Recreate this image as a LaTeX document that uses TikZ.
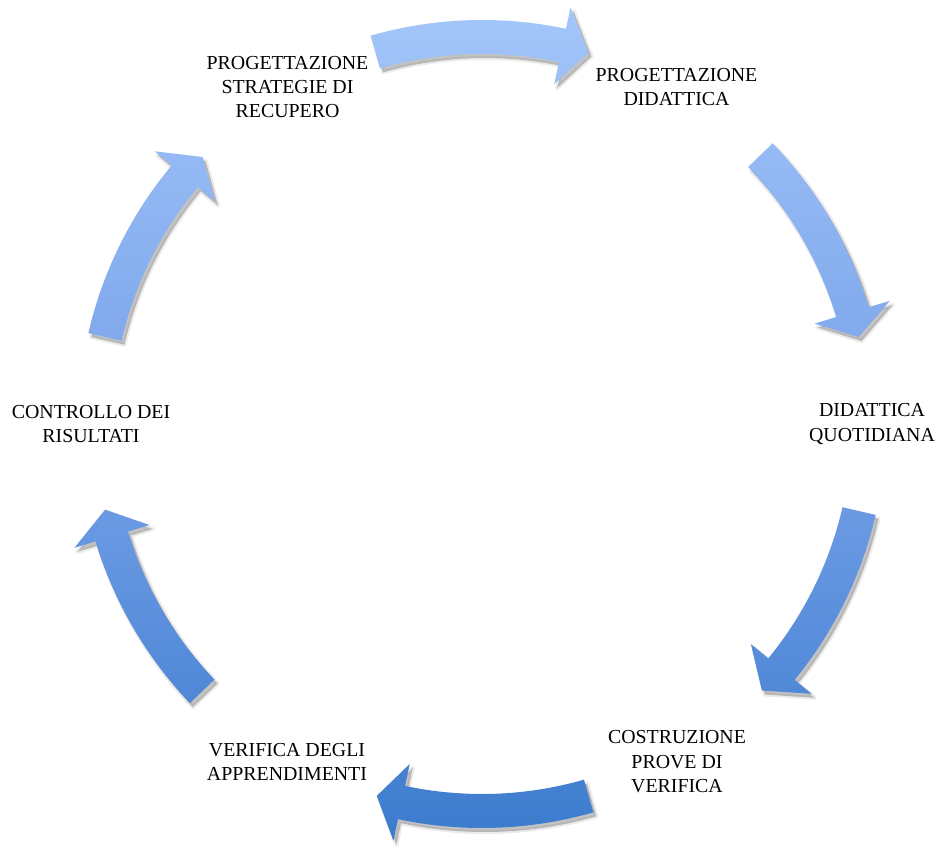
\documentclass[tikz,border=0pt]{standalone}
\usepackage{fontspec}
\setmainfont{Liberation Serif}
\usepackage{tikz}
\definecolor{cyctop}{RGB}{164,199,250}
\definecolor{cycmid}{RGB}{120,162,233}
\definecolor{cycbot}{RGB}{58,122,204}
\definecolor{cycshadow}{RGB}{120,120,120}
\newcommand{\cycarrow}[3]{(#1:404) arc[start angle=#1, end angle=#2, radius=404] -- (#2:426) -- (#3:386.5) -- (#2:347.5) -- (#2:370) arc[start angle=#2, end angle=#1, radius=370] -- cycle}

\begin{document}
\begin{tikzpicture}[x=0.75pt, y=0.75pt,
	steplabel/.style={align=center, font=\fontsize{14.9}{18.2}\selectfont}]
\useasboundingbox (-482,-425) rectangle (458,424);
\node[steplabel] (psr) at (120:389) {PROGETTAZIONE\\STRATEGIE DI\\RECUPERO};
\node[steplabel] (pd) at (60:389) {PROGETTAZIONE\\DIDATTICA};
\node[steplabel] (dq) at (0:390) {DIDATTICA\\QUOTIDIANA};
\node[steplabel] (cpv) at (-60:390) {COSTRUZIONE\\PROVE DI\\VERIFICA};
\node[steplabel] (va) at (-120:390) {VERIFICA DEGLI\\APPRENDIMENTI};
\node[steplabel] (cr) at (180:391) {CONTROLLO DEI\\RISULTATI};
\foreach \a/\b/\t in {106/78/74, 44/16.8/13, 347/320.7/316.4, 286/258/254.2, 223.7/196.9/192.8, 167/140.2/136.3}
{
	\fill[cycshadow, opacity=0.45, shift={(3,-4)}] \cycarrow{\a}{\b}{\t};
	\draw[cycshadow, opacity=0.15, line width=3, line join=round, shift={(3,-4)}] \cycarrow{\a}{\b}{\t};
}
\begin{scope}
\clip foreach \a/\b/\t in {106/78/74, 44/16.8/13, 347/320.7/316.4, 286/258/254.2, 223.7/196.9/192.8, 167/140.2/136.3} {\cycarrow{\a}{\b}{\t}};
\shade[top color=cyctop, bottom color=cycbot, middle color=cycmid] (-482,-425) rectangle (458,424);
\end{scope}
\end{tikzpicture}
\end{document}
